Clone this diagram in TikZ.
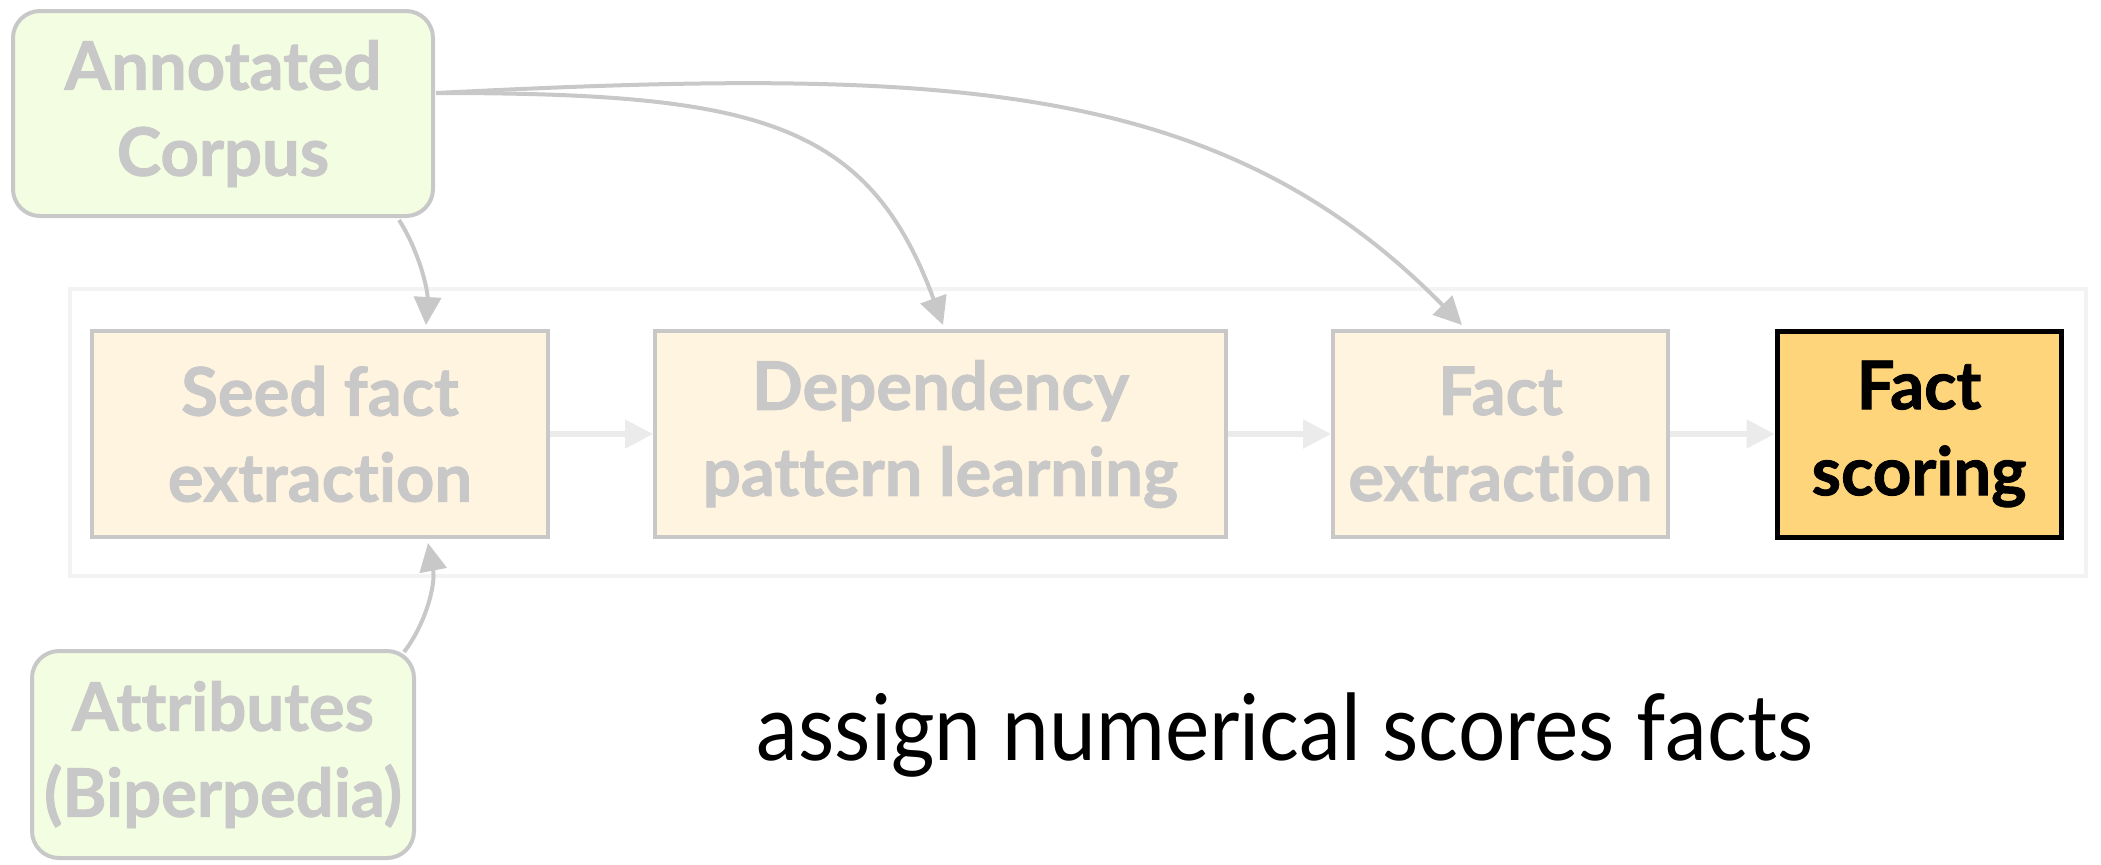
\documentclass[tikz,border=0pt]{standalone}
\usepackage{graphicx}
\usepackage{fontspec}
\setmainfont{Lato}[Ligatures=NoCommon, BoldFeatures={FakeBold=1.3}]
\usetikzlibrary{arrows.meta,calc}
\definecolor{edgegray}{HTML}{C8C8C8}
\definecolor{lightarrow}{HTML}{EBEBEB}
\definecolor{framegray}{HTML}{F3F3F3}
\definecolor{greenfill}{HTML}{F3FDE1}
\definecolor{orangefill}{HTML}{FFF4E0}
\definecolor{scorefill}{HTML}{FED57B}
\begin{document}
\begin{tikzpicture}[x=0.5pt,y=-0.5pt,
  lbl/.style={font=\fontsize{33.5pt}{43pt}\selectfont\bfseries, align=center, text=edgegray},
  srcbox/.style={lbl, draw=edgegray, line width=2pt, fill=greenfill, rounded corners=13.5pt, inner sep=0pt},
  stepbox/.style={lbl, draw=edgegray, line width=2pt, fill=orangefill, inner sep=0pt},
  flow/.style={draw=lightarrow, line width=2.6pt, -{Triangle[length=14pt,width=14pt]}},
  feed/.style={draw=edgegray, line width=2pt, -{Triangle[length=14pt,width=13.5pt]}},
]
\useasboundingbox (0,0) rectangle (2101,864);

\node (frame) [draw=framegray, line width=2pt, minimum width=1008pt, minimum height=143.5pt, inner sep=0pt] at (1078,432.5) {};

\node (ac) [srcbox, minimum width=210pt, minimum height=102.5pt] at (223,113.5) {Annotated\\Corpus};
\node (attr) [srcbox, minimum width=191pt, minimum height=103.5pt] at (223,754.5) {Attributes\\(Biperpedia)};

\node (seed) [stepbox, minimum width=228pt, minimum height=103pt] at (320,434) {Seed fact\\extraction};
\node (dep) [stepbox, minimum width=285.5pt, minimum height=103pt] at (940.5,434) {Dependency\\pattern learning};
\node (fe) [stepbox, minimum width=167.5pt, minimum height=103pt] at (1500.5,434) {Fact\\extraction};
\node (fs) [stepbox, draw=black, line width=2.5pt, fill=scorefill, text=black, minimum width=142pt, minimum height=103pt] at (1919,434) {Fact\\scoring};

\node (cap) [anchor=base, inner sep=0pt] at (1285,760) {\resizebox{528pt}{\height}{\fontsize{46pt}{52pt}\selectfont assign numerical scores facts}};

\draw[flow] (seed.east) -- (dep.west);
\draw[flow] (dep.east) -- (fe.west);
\draw[flow] (fe.east) -- (fs.west);

\draw[feed] ($(ac.south east)+(-36,2)$) .. controls (419,251) and (428,290) .. ($(seed.north)+(106,-4)$);
\draw[feed] ($(ac.east)+(1,-20.5)$) .. controls (754,93) and (868,120) .. ($(dep.north)+(2.5,-4)$);
\draw[feed] ($(ac.east)+(1,-20.5)$) .. controls (934,68) and (1217,75) .. ($(fe.north)+(-38.5,-4)$);
\draw[feed] ($(attr.north east)+(-12,3)$) .. controls (425,625) and (436,585) .. ($(seed.south)+(108,4)$);
\end{tikzpicture}
\end{document}
